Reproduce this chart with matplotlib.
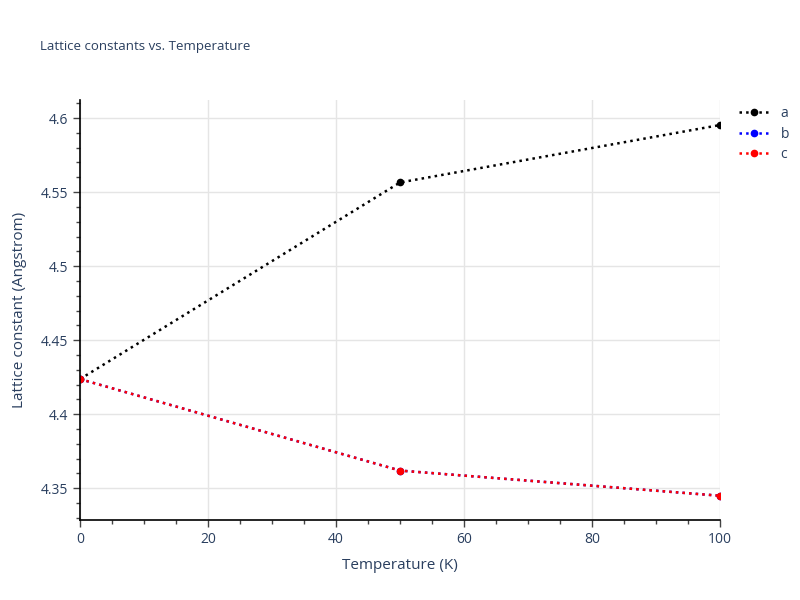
import matplotlib
matplotlib.use("Agg")
import matplotlib.pyplot as plt
from matplotlib.ticker import MultipleLocator

plt.rcParams['font.family'] = ['Open Sans', 'DejaVu Sans']

temps = [0, 50, 100]
a_vals = [4.4237, 4.5565, 4.5953]
b_vals = [4.4237, 4.3619, 4.3449]
c_vals = [4.4237, 4.3619, 4.3449]
names = ['a', 'b', 'c']
colors = ['black', 'blue', 'red']

txt = '#2a3f5f'
fig = plt.figure(figsize=(8, 6), dpi=100)
ax = fig.add_axes([0.1, 0.1333, 0.8, 0.7])

for vals, name, col in zip([a_vals, b_vals, c_vals], names, colors):
    ax.plot(temps, vals, linestyle=':', color=col, linewidth=1.8,
            marker='o', markersize=4.5, label=name)

ax.set_xlim(0, 100)
ax.set_ylim(4.3285, 4.6122)
ax.xaxis.set_major_locator(MultipleLocator(20))
ax.xaxis.set_minor_locator(MultipleLocator(5))
ax.yaxis.set_minor_locator(MultipleLocator(0.01))
ax.set_yticks([4.35, 4.4, 4.45, 4.5, 4.55, 4.6])
ax.set_yticklabels(['4.35', '4.4', '4.45', '4.5', '4.55', '4.6'])
ax.grid(True, which='major', color='#e5e5e5', linewidth=1)
ax.set_axisbelow(True)

for s in ['top', 'right']:
    ax.spines[s].set_visible(False)
for s in ['left', 'bottom']:
    ax.spines[s].set_color('black')
    ax.spines[s].set_linewidth(1.2)

ax.tick_params(which='major', length=5, width=1, color='#444444',
               labelcolor=txt, labelsize=10)
ax.tick_params(which='minor', length=3, width=1, color='#444444')

ax.set_xlabel('Temperature (K)', color=txt, fontsize=11, labelpad=8)
ax.set_ylabel('Lattice constant (Angstrom)', color=txt, fontsize=11, labelpad=10)
fig.text(0.05, 0.923, 'Lattice constants vs. Temperature', color=txt,
         fontsize=9.5, va='center')

leg = ax.legend(loc='upper left', bbox_to_anchor=(1.01, 1.015), frameon=False,
                fontsize=10, handlelength=2.2, labelspacing=0.4)
for t in leg.get_texts():
    t.set_color(txt)

fig.savefig('out.png', dpi=100)
